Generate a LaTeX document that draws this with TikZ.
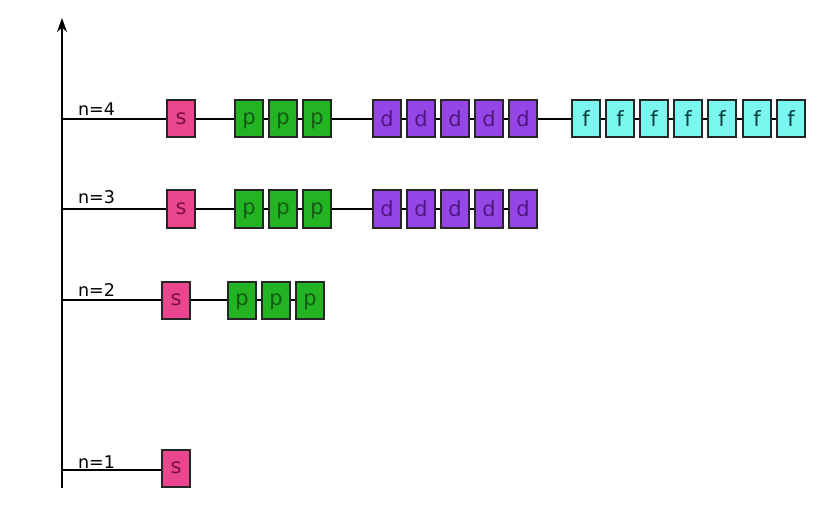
\documentclass[tikz,border=0pt]{standalone}
\usepackage{fontspec}
\setmainfont{DejaVu Sans}
\usetikzlibrary{arrows.meta}
\definecolor{orbS}{HTML}{E9468F}
\definecolor{orbP}{HTML}{22B422}
\definecolor{orbD}{HTML}{9646E6}
\definecolor{orbF}{HTML}{7AF7EE}
\definecolor{txtS}{HTML}{7A1040}
\definecolor{txtP}{HTML}{145A14}
\definecolor{txtD}{HTML}{4E1880}
\definecolor{txtF}{HTML}{0A4040}
\begin{document}
\begin{tikzpicture}[x=1pt, y=-1pt, line width=2.2pt,
        orb/.style={draw=black!85, line width=2pt, minimum width=28pt, minimum height=37pt, inner sep=0pt, text depth=0pt, font=\fontsize{21}{21}\selectfont},
        sorb/.style={orb, fill=orbS, text=txtS},
        porb/.style={orb, fill=orbP, text=txtP},
        dorb/.style={orb, fill=orbD, text=txtD},
        forb/.style={orb, fill=orbF, text=txtF},
        nivel/.style={anchor=base west, inner sep=0pt, font=\fontsize{17.5}{17.5}\selectfont}]

        \useasboundingbox (0,0) rectangle (825,516);

        % ==========================================
        % EJE
        % ==========================================
        \coordinate (base) at (62,488);
        \coordinate (tope) at (62,18);
        \draw[line width=2.4pt, -{Stealth[length=14pt, width=10pt]}] (base) -- (tope);

        % ==========================================
        % NIVEL n=4
        % ==========================================
        \coordinate (e4) at (62,119);
        \node[nivel] (n4) at (77,116) {n=4};
        \node[sorb] (s4) at (181,119) {s};
        % orbitales p
        \node[porb] (p41) at (249,119) {p};
        \node[porb] (p42) at (283,119) {p};
        \node[porb] (p43) at (317,119) {p};
        % orbitales d
        \node[dorb] (d41) at (387,119) {d};
        \node[dorb] (d42) at (421,119) {d};
        \node[dorb] (d43) at (455,119) {d};
        \node[dorb] (d44) at (489,119) {d};
        \node[dorb] (d45) at (523,119) {d};
        % orbitales f
        \node[forb] (f41) at (586,119) {f};
        \node[forb] (f42) at (620,119) {f};
        \node[forb] (f43) at (654,119) {f};
        \node[forb] (f44) at (688,119) {f};
        \node[forb] (f45) at (722,119) {f};
        \node[forb] (f46) at (757,119) {f};
        \node[forb] (f47) at (791,119) {f};
        \draw (e4) -- (s4) -- (p41) -- (p42) -- (p43) -- (d41) -- (d42) -- (d43) -- (d44) -- (d45)
              -- (f41) -- (f42) -- (f43) -- (f44) -- (f45) -- (f46) -- (f47);

        % ==========================================
        % NIVEL n=3
        % ==========================================
        \coordinate (e3) at (62,209);
        \node[nivel] (n3) at (77,204) {n=3};
        \node[sorb] (s3) at (181,209) {s};
        \node[porb] (p31) at (249,209) {p};
        \node[porb] (p32) at (283,209) {p};
        \node[porb] (p33) at (317,209) {p};
        \node[dorb] (d31) at (387,209) {d};
        \node[dorb] (d32) at (421,209) {d};
        \node[dorb] (d33) at (455,209) {d};
        \node[dorb] (d34) at (489,209) {d};
        \node[dorb] (d35) at (523,209) {d};
        \draw (e3) -- (s3) -- (p31) -- (p32) -- (p33) -- (d31) -- (d32) -- (d33) -- (d34) -- (d35);

        % ==========================================
        % NIVEL n=2
        % ==========================================
        \coordinate (e2) at (62,300);
        \node[nivel] (n2) at (77,296) {n=2};
        \node[sorb] (s2) at (176,300) {s};
        \node[porb] (p21) at (242,300) {p};
        \node[porb] (p22) at (276,300) {p};
        \node[porb] (p23) at (310,300) {p};
        \draw (e2) -- (s2) -- (p21) -- (p22) -- (p23);

        % ==========================================
        % NIVEL n=1
        % ==========================================
        \coordinate (e1) at (62,470);
        \node[nivel] (n1) at (77,468) {n=1};
        \node[sorb] (s1) at (176,468) {s};
        \draw (e1) -- (s1.west |- e1);

    \end{tikzpicture}
\end{document}
